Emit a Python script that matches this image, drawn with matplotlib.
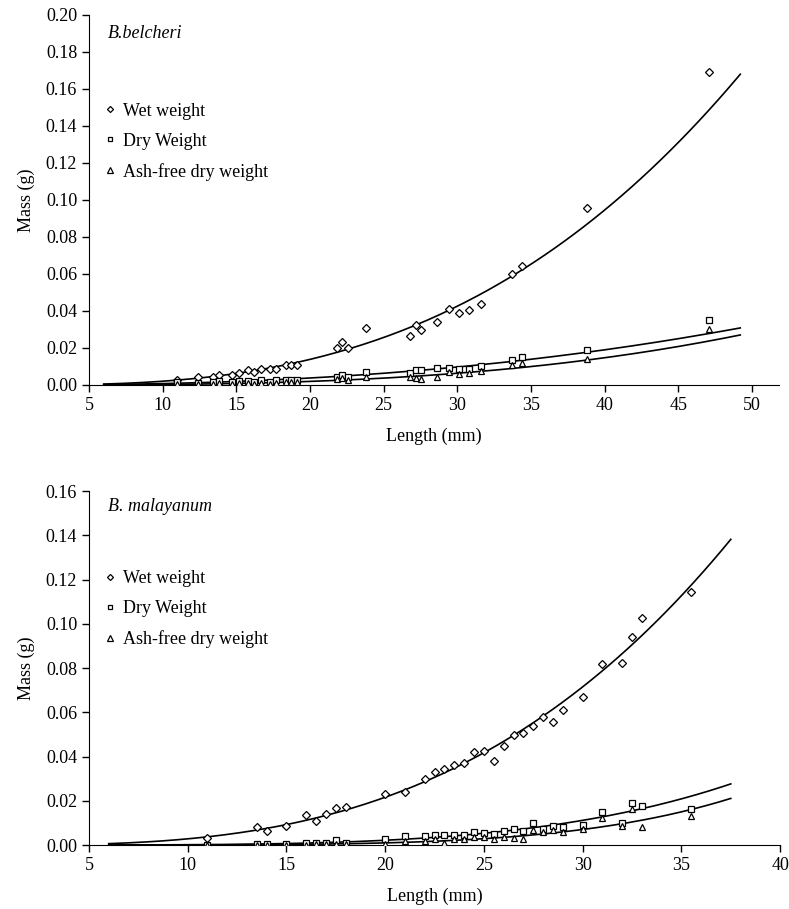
import numpy as np
import matplotlib
matplotlib.use("Agg")
import matplotlib.pyplot as plt

plt.rcParams["font.family"] = ["Liberation Serif", "DejaVu Serif"]

# B. belcheri (top panel)
bel_len = [11.0, 12.4, 13.4, 13.8, 14.7, 15.2, 15.8, 16.2, 16.7, 17.3, 17.7, 18.4, 18.7, 19.1,
           21.8, 22.2, 22.6, 23.8, 26.8, 27.2, 27.5, 28.6, 29.4, 30.1, 30.8, 31.6, 33.7, 34.4,
           38.8, 47.1]
bel_wet = [0.0027, 0.0042, 0.0042, 0.0054, 0.0056, 0.0067, 0.0081, 0.0069, 0.0085, 0.0085,
           0.0085, 0.0108, 0.0106, 0.0106, 0.0200, 0.0231, 0.0200, 0.0310, 0.0265, 0.0326,
           0.0296, 0.0342, 0.0412, 0.0389, 0.0404, 0.0436, 0.0598, 0.0645, 0.0957, 0.1690]
bel_dry = [0.0015, 0.0012, 0.0018, 0.0020, 0.0015, 0.0020, 0.0022, 0.0018, 0.0025, 0.0018,
           0.0026, 0.0028, 0.0028, 0.0028, 0.0045, 0.0055, 0.0045, 0.0072, 0.0063, 0.0081,
           0.0081, 0.0094, 0.0094, 0.0088, 0.0088, 0.0103, 0.0135, 0.0150, 0.0189, 0.0351]
bel_afdw = [0.0007, 0.0005, 0.0007, 0.0009, 0.0006, 0.0008, 0.0008, 0.0007, 0.0011, 0.0006,
            0.0012, 0.0015, 0.0015, 0.0015, 0.0030, 0.0035, 0.0028, 0.0045, 0.0042, 0.0038,
            0.0031, 0.0042, 0.0069, 0.0060, 0.0067, 0.0078, 0.0108, 0.0120, 0.0143, 0.0302]

# B. malayanum (bottom panel)
mal_len = [11.0, 13.5, 14.0, 15.0, 16.0, 16.5, 17.0, 17.5, 18.0, 20.0, 21.0, 22.0, 22.5, 23.0,
           23.5, 24.0, 24.5, 25.0, 25.5, 26.0, 26.5, 27.0, 27.5, 28.0, 28.5, 29.0, 30.0, 31.0,
           32.0, 32.5, 33.0, 35.5]
mal_wet = [0.0030, 0.0081, 0.0063, 0.0087, 0.0136, 0.0110, 0.0141, 0.0166, 0.0173, 0.0231,
           0.0238, 0.0297, 0.0330, 0.0342, 0.0363, 0.0371, 0.0420, 0.0426, 0.0381, 0.0447,
           0.0499, 0.0505, 0.0538, 0.0577, 0.0556, 0.0609, 0.0669, 0.0818, 0.0824, 0.0940,
           0.1026, 0.1144]
mal_dry = [0.0002, 0.0004, 0.0004, 0.0006, 0.0007, 0.0007, 0.0010, 0.0022, 0.0010, 0.0025,
           0.0041, 0.0041, 0.0045, 0.0045, 0.0045, 0.0045, 0.0057, 0.0053, 0.0050, 0.0065,
           0.0071, 0.0062, 0.0098, 0.0074, 0.0087, 0.0083, 0.0090, 0.0148, 0.0101, 0.0188,
           0.0176, 0.0161]
mal_afdw = [0.00012, 0.00015, 0.0002, 0.0002, 0.0002, 0.00025, 0.0003, 0.0004, 0.0003, 0.0006,
            0.0020, 0.0020, 0.0027, 0.0008, 0.0027, 0.0027, 0.0035, 0.0035, 0.0027, 0.0035,
            0.0032, 0.0027, 0.0068, 0.0057, 0.0068, 0.0057, 0.0072, 0.0121, 0.0088, 0.0161,
            0.0083, 0.0131]

series_labels = ["Wet weight", "Dry Weight", "Ash-free dry weight"]
markers = ["D", "s", "^"]
msizes = [3.6, 4.0, 4.6]


def power_fit(x, y):
    # plain power trendline: least squares in log-log space
    b, loga = np.polyfit(np.log(x), np.log(y), 1)
    return np.exp(loga), b


def draw_panel(ax, length, series, fit_range, title, title_y, xlim, xticks, ylim, yticks, leg_y):
    xs = np.linspace(fit_range[0], fit_range[1], 200)
    handles = []
    for vals, mk, ms, lab in zip(series, markers, msizes, series_labels):
        a, b = power_fit(length, vals)
        ax.plot(xs, a * xs ** b, color="black", lw=1.2, zorder=2)
        h, = ax.plot(length, vals, ls="none", marker=mk, ms=ms, mfc="white",
                     mec="black", mew=0.9, zorder=3, label=lab)
        handles.append(h)

    ax.set_xlim(*xlim)
    ax.set_ylim(*ylim)
    ax.set_xticks(xticks)
    ax.set_yticks(yticks)
    ax.set_yticklabels([f"{v:.2f}" for v in yticks])
    ax.spines["top"].set_visible(False)
    ax.spines["right"].set_visible(False)
    ax.tick_params(direction="out", length=5, width=1, labelsize=13, colors="black")
    ax.set_xlabel("Length (mm)", fontsize=13, labelpad=10)
    ax.set_ylabel("Mass (g)", fontsize=13)
    ax.yaxis.set_label_coords(-0.078, 0.5)
    ax.text(0.027, title_y, title, transform=ax.transAxes, fontsize=13,
            style="italic", ha="left", va="center")
    ax.legend(handles=handles, loc="upper left", bbox_to_anchor=(0.02, leg_y),
              frameon=False, fontsize=13, handlelength=0.8, handletextpad=0.3,
              labelspacing=0.72, borderpad=0, borderaxespad=0, markerscale=0.85)


fig = plt.figure(figsize=(7.89, 9.09), dpi=100)
ax1 = fig.add_axes([0.1128, 0.5765, 0.874, 0.407])
ax2 = fig.add_axes([0.1128, 0.0704, 0.876, 0.3894])

draw_panel(ax1, bel_len, [bel_wet, bel_dry, bel_afdw], (6, 49.2), "B.belcheri", 0.949,
           (5, 51.8), np.arange(5, 51, 5), (0, 0.20), np.arange(0, 0.201, 0.02), 0.763)
draw_panel(ax2, mal_len, [mal_wet, mal_dry, mal_afdw], (6, 37.5), "B. malayanum", 0.957,
           (5, 40), np.arange(5, 41, 5), (0, 0.16), np.arange(0, 0.161, 0.02), 0.776)

fig.savefig("out.png", dpi=100)
